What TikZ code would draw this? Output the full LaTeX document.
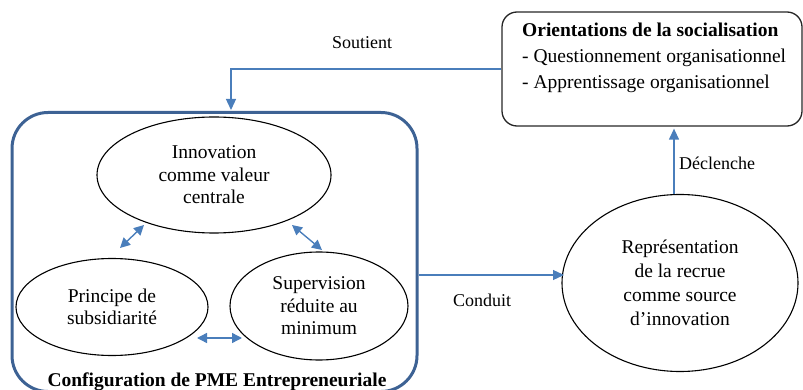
\documentclass[tikz,border=0pt]{standalone}
\usepackage{fontspec}
\setmainfont{Liberation Serif}
\usetikzlibrary{shapes.geometric,arrows.meta,calc}
\definecolor{frameblue}{HTML}{3D6294}
\definecolor{arrblue}{HTML}{4A7EBB}
\tikzset{
  elli/.style={ellipse, draw=black, line width=1.1pt, inner sep=0pt, align=center, font=\fontsize{19.5}{22.5}\selectfont},
  arr/.style={draw=arrblue, line width=1.3pt, -{Triangle[width=10pt,length=11pt]}},
  dbl/.style={draw=arrblue, line width=1.4pt, {Triangle[width=10pt,length=10pt]}-{Triangle[width=10pt,length=10pt]}},
  lbl/.style={font=\fontsize{18}{20}\selectfont, inner sep=0pt},
}
\begin{document}
\begin{tikzpicture}[x=1pt,y=-1pt]
\useasboundingbox (0,0) rectangle (803,390);
% big frame
\node[draw=frameblue, line width=3pt, rounded corners=36pt, minimum width=405pt, minimum height=279pt, inner sep=0pt] (config) at (214.5,252) {};
\node[font=\bfseries\fontsize{19.5}{22}\selectfont, inner sep=0pt, anchor=base] (conftitle) at (217,386) {Configuration de PME Entrepreneuriale};
% ellipses inside
\node[elli, minimum width=234pt, minimum height=116pt] (inn) at (214,175) {Innovation\\comme valeur\\centrale};
\node[elli, minimum width=192pt, minimum height=97pt] (prin) at (112,307) {Principe de\\subsidiarité};
\node[elli, minimum width=178pt, minimum height=108pt] (sup) at (319,306) {Supervision\\réduite au\\minimum};
% double arrows
\coordinate (d1a) at (120,248); \coordinate (d1b) at (144,225);
\coordinate (d2a) at (292,225); \coordinate (d2b) at (322,250);
\coordinate (d3a) at (197,338); \coordinate (d3b) at (242,338);
\draw[dbl] (d1a) -- (d1b);
\draw[dbl] (d2a) -- (d2b);
\draw[dbl] (d3a) -- (d3b);
% orientations box
\node[draw=black!85, line width=1.3pt, rounded corners=15pt, minimum width=300pt, minimum height=114pt, inner sep=0pt] (orient) at (652,69) {};
\node[anchor=north west, inner sep=0pt, align=left, font=\fontsize{19.5}{26}\selectfont] (orienttext) at (522,23)
  {\textbf{Orientations de la socialisation}\\- Questionnement organisationnel\\- Apprentissage organisationnel};
% right ellipse
\node[elli, minimum width=236pt, minimum height=177pt, font=\fontsize{19.5}{24}\selectfont] (rep) at (680,283) {Représentation\\de la recrue\\comme source\\d’innovation};
% connectors
\coordinate (sin) at (231,110);
\draw[arr] (orient.west) -| (sin);
\node[lbl] (soutient) at (362,43) {Soutient};
\coordinate (cstart) at (419,275);
\coordinate (cend) at (564,275);
\draw[arr] (cstart) -- (cend);
\node[lbl] (conduit) at (482,300) {Conduit};
\draw[arr] (rep.north -| 674,0) -- ($(orient.south -| 674,0)+(0,2)$);
\node[lbl, anchor=west] (decl) at (679,163) {Déclenche};
\end{tikzpicture}
\end{document}
